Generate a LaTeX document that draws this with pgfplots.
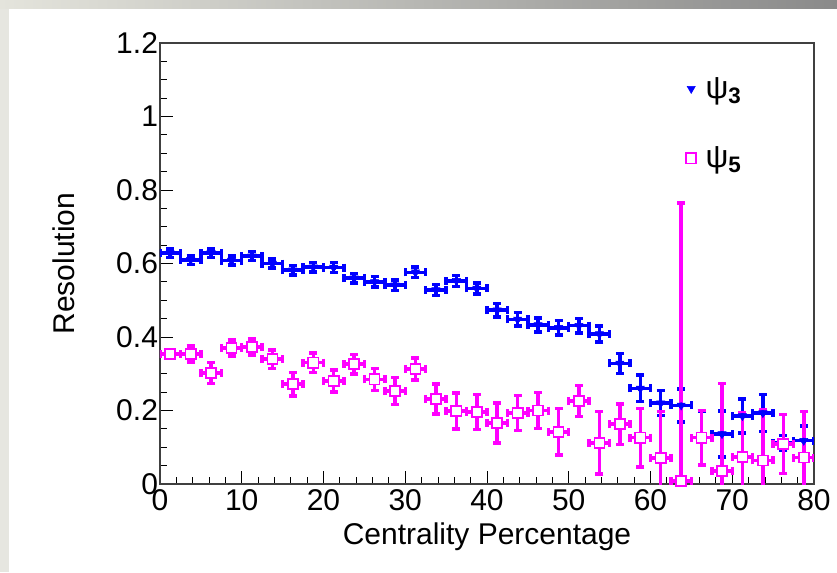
\documentclass[border=0pt]{standalone}
\usepackage{pgfplots}
\pgfplotsset{compat=1.18}
\usepackage{pgfplotstable}
\usepackage{fontspec}
\setmainfont{Liberation Sans}
\definecolor{rblue}{RGB}{0,0,255}
\definecolor{rmag}{RGB}{255,0,255}
\definecolor{bgl}{RGB}{228,228,220}
\definecolor{bgd}{RGB}{138,138,138}
\definecolor{bgs}{RGB}{230,230,224}

\pgfplotstableread{
x y ey
1.25 0.628 0.012
3.75 0.610 0.012
6.25 0.629 0.012
8.75 0.608 0.012
11.25 0.620 0.012
13.75 0.600 0.012
16.25 0.582 0.013
18.75 0.590 0.013
21.25 0.589 0.013
23.75 0.560 0.013
26.25 0.550 0.014
28.75 0.541 0.014
31.25 0.576 0.014
33.75 0.528 0.015
36.25 0.553 0.015
38.75 0.532 0.015
41.25 0.473 0.018
43.75 0.448 0.018
46.25 0.433 0.019
48.75 0.425 0.020
51.25 0.431 0.020
53.75 0.408 0.022
56.25 0.328 0.027
58.75 0.260 0.036
61.25 0.220 0.034
63.75 0.214 0.045
66.25 0.126 0.073
68.75 0.136 0.063
71.25 0.185 0.046
73.75 0.193 0.050
76.25 0.112 0.020
78.75 0.118 0.040
}\psithree

\pgfplotstableread{
x y ey
1.25 0.354 0.012
3.75 0.354 0.022
6.25 0.302 0.029
8.75 0.370 0.022
11.25 0.373 0.022
13.75 0.340 0.025
16.25 0.272 0.032
18.75 0.330 0.027
21.25 0.280 0.030
23.75 0.326 0.027
26.25 0.285 0.030
28.75 0.253 0.037
31.25 0.313 0.030
33.75 0.231 0.041
36.25 0.199 0.049
38.75 0.196 0.047
41.25 0.166 0.055
43.75 0.193 0.048
46.25 0.200 0.049
48.75 0.142 0.063
51.25 0.226 0.042
53.75 0.112 0.085
56.25 0.163 0.055
58.75 0.126 0.080
61.25 0.071 0.126
63.75 0.008 0.756
66.25 0.126 0.074
68.75 0.036 0.237
71.25 0.074 0.120
73.75 0.064 0.137
76.25 0.109 0.080
78.75 0.072 0.125
}\psifive

\begin{document}
\begin{tikzpicture}
% 1 px = 0.75 pt ; axis box lower-left corner at the origin (px 160, 484)
\fill[white] (-120pt,-66pt) rectangle (507.75pt,363pt);
\shade[left color=bgl, right color=bgd] (-120pt,356.25pt) rectangle (507.75pt,363pt);
\fill[bgs] (-120pt,-66pt) rectangle (-113.25pt,356.25pt);
\begin{axis}[
  at={(0pt,0pt)}, anchor=south west,
  scale only axis, width=490.5pt, height=330.75pt,
  xmin=0, xmax=80, ymin=0, ymax=1.2,
  xtick={0,10,...,80}, ytick={0,0.2,...,1.2},
  yticklabels={0,0.2,0.4,0.6,0.8,1,1.2},
  minor x tick num=4, minor y tick num=3,
  xtick pos=left, ytick pos=left, tick align=inside,
  major tick length=10pt, minor tick length=5.5pt,
  tick style={black, line width=0.6pt},
  axis line style={line width=0.8pt, black!75},
  /pgf/number format/assume math mode=true,
  ticklabel style={font=\fontsize{22.5}{27}\selectfont},
  xticklabel style={yshift=-1pt},
  yticklabel style={xshift=2pt},
  xlabel={Centrality Percentage}, ylabel={Resolution},
  label style={font=\fontsize{22.5}{27}\selectfont},
  xlabel style={at={(axis description cs:0.5,-0.12)}, anchor=center},
  ylabel style={at={(axis description cs:-0.147,0.5)}, anchor=center},
  legend style={draw=none, fill=none, at={(0.798,0.935)}, anchor=north west,
    row sep=31pt, font=\fontsize{24}{28}\selectfont},
  legend cell align=left,
  legend image code/.code={\draw[mark repeat=2,mark phase=2,#1] plot coordinates {(0cm,0cm) (0.15cm,0cm) (0.3cm,0cm)};},
]
\addplot[rblue, only marks, mark=none, forget plot,
  error bars/.cd, x dir=both, x fixed=1.25, y dir=both, y explicit,
  error bar style={line width=2.6pt},
  error mark options={rotate=90, line width=2.6pt, mark size=3pt}]
  table[x=x, y=y, y error=ey] {\psithree};
\addplot[rblue, only marks, mark=triangle*, mark size=3.5pt, mark options={rotate=180}]
  table[x=x, y=y] {\psithree};
\addlegendentry{\hspace*{5pt}ψ\textsubscript{\textbf{3}}}
\addplot[rmag, only marks, mark=none, forget plot,
  error bars/.cd, x dir=both, x fixed=1.25, y dir=both, y explicit,
  error bar style={line width=2.6pt},
  error mark options={rotate=90, line width=2.6pt, mark size=3pt}]
  table[x=x, y=y, y error=ey] {\psifive};
\addplot[rmag, only marks, mark=square*, mark size=3.8pt, mark options={fill=white, line width=1.2pt}]
  table[x=x, y=y] {\psifive};
\addlegendentry{\hspace*{5pt}ψ\textsubscript{\textbf{5}}}
\end{axis}
\useasboundingbox (-120pt,-66pt) rectangle (507.75pt,363pt);
\end{tikzpicture}
\end{document}
